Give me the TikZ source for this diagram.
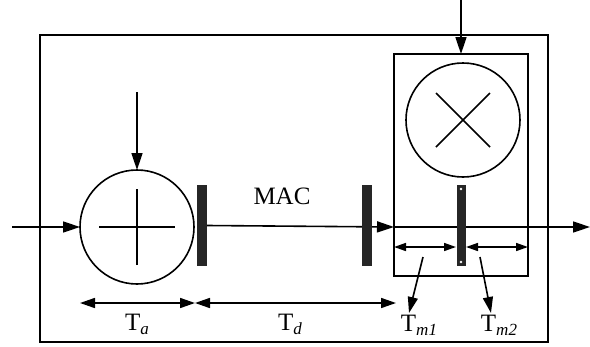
\documentclass[tikz,border=0pt]{standalone}
\usepackage{fontspec}
\setmainfont{Liberation Serif}
\usetikzlibrary{arrows.meta}
\newcommand{\Tsub}[1]{T\raisebox{-0.4ex}{\fontsize{17}{17}\selectfont\itshape #1}}
\begin{document}
\begin{tikzpicture}[x=1pt,y=-1pt,
  every node/.style={inner sep=0pt,outer sep=0pt},
  lw/.style={line width=1.6pt},
  bigtip/.style={-{Triangle[length=17pt,width=11pt]}},
  dimtip/.style={{Triangle[length=15pt,width=10pt]}-{Triangle[length=15pt,width=10pt]}},
  smalldim/.style={{Triangle[length=12pt,width=8pt]}-{Triangle[length=12pt,width=8pt]}},
  boxnode/.style={draw,lw,rectangle},
  opcircle/.style={draw,lw,circle,minimum size=114pt},
  barnode/.style={fill=black!85,rectangle,minimum width=10pt,minimum height=81pt},
  lab/.style={font=\fontsize{25}{25}\selectfont}]
\useasboundingbox (0,0) rectangle (590,346);
% boxes
\node[boxnode,minimum width=508pt,minimum height=307pt] (outer) at (294,188.5) {};
\node[boxnode,minimum width=134pt,minimum height=222pt] (inner) at (461,165) {};
% operators
\node[opcircle] (sum) at (137,227) {};
\node[opcircle] (mult) at (463,120) {};
\draw[lw] ([xshift=-38pt]sum.center) -- ([xshift=38pt]sum.center);
\draw[lw] ([yshift=-38pt]sum.center) -- ([yshift=38pt]sum.center);
\draw[lw] ([shift={(-27pt,-27pt)}]mult.center) -- ([shift={(27pt,27pt)}]mult.center);
\draw[lw] ([shift={(-27pt,27pt)}]mult.center) -- ([shift={(27pt,-27pt)}]mult.center);
% coordinates
\coordinate (in1) at (12,227);
\coordinate (top1) at (137,92);
\coordinate (top2) at (461,0);
\coordinate (out) at (590,227);
\coordinate (innerL) at (394,227);
% main signal path
\draw[lw,bigtip] (in1) -- (sum.west);
\draw[lw,bigtip] (top1) -- (sum.north);
\draw[lw,bigtip] (top2) -- (inner.north);
\node[barnode] (bar1) at (202,225.5) {};
\draw[lw,bigtip] (bar1.east) -- (innerL);
\node[barnode] (bar2) at (367,225.5) {};
\draw[lw,bigtip] (innerL) -- (out);
\node[barnode,minimum width=9pt] (bar3) at (461,225.5) {};
\fill[white] (461,189) circle (1.3pt) (461,262) circle (1.3pt);
% dimensions
\coordinate (da1) at (80,303);
\coordinate (da2) at (195,303);
\coordinate (dd2) at (396,303);
\draw[lw,dimtip] (da1) -- (da2);
\draw[lw,dimtip] (da2) -- (dd2);
\coordinate (dm1a) at (394,247);
\coordinate (dm1b) at (456,247);
\coordinate (dm2a) at (466,247);
\coordinate (dm2b) at (528,247);
\draw[lw,smalldim] (dm1a) -- (dm1b);
\draw[lw,smalldim] (dm2a) -- (dm2b);
% labels
\node[lab] (mac) at (282,196) {MAC};
\node[lab,anchor=base] (ta) at (137,330) {\Tsub{a}};
\node[lab,anchor=base] (td) at (290,330) {\Tsub{d}};
\node[lab,anchor=base] (tm1) at (419,331) {\Tsub{m1}};
\node[lab,anchor=base] (tm2) at (499,331) {\Tsub{m2}};
\coordinate (p1) at (423,257);
\coordinate (p2) at (480,257);
\draw[lw,-{Triangle[length=16pt,width=10pt]}] (p1) -- (409,313);
\draw[lw,-{Triangle[length=16pt,width=10pt]}] (p2) -- (491,313);
\end{tikzpicture}
\end{document}
